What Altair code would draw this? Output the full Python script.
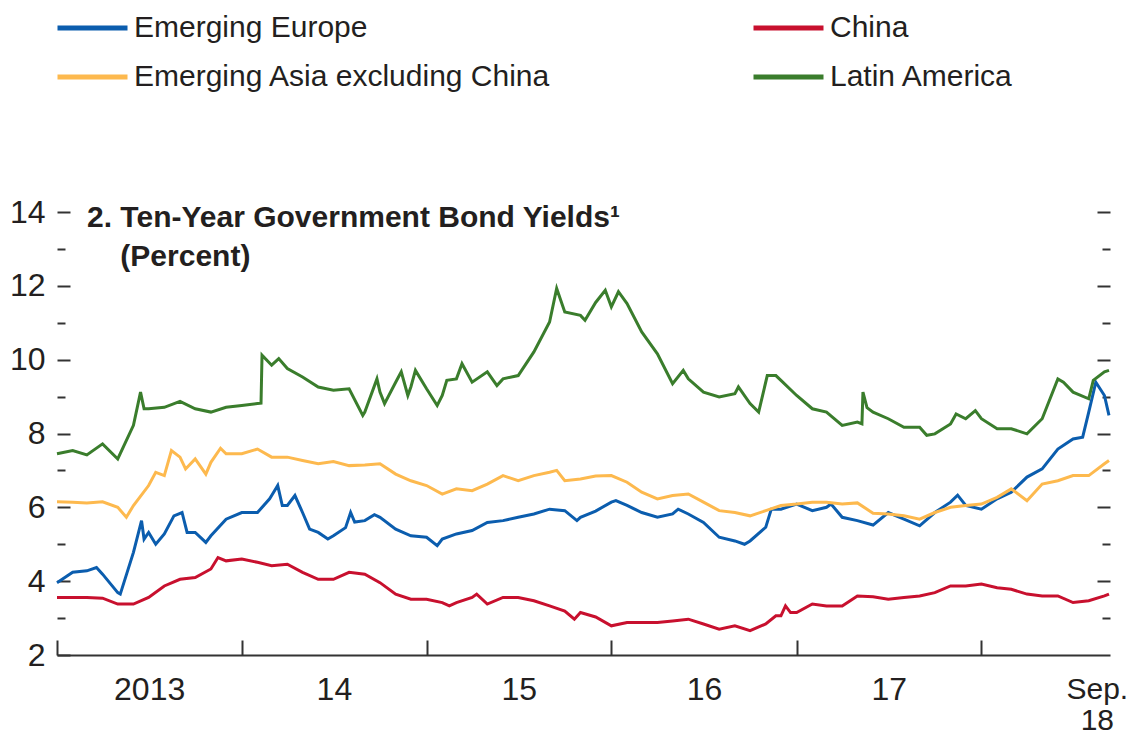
import altair as alt
import pandas as pd

FONT = "Liberation Sans, Arial, sans-serif"
TXT = "#231f20"
AX = "#333333"

SERIES = ["Emerging Europe", "China", "Emerging Asia excluding China", "Latin America"]
COLORS = ["#0B5DAE", "#C8102E", "#FDB94E", "#3A7D2C"]

ee_dates = ["2013-01-01","2013-02-01","2013-03-01","2013-03-20","2013-04-01","2013-05-01","2013-05-06","2013-06-01","2013-06-17","2013-06-22",
            "2013-07-01","2013-07-15","2013-08-01","2013-08-20","2013-09-05","2013-09-15","2013-10-01","2013-10-22","2013-11-01","2013-12-01",
            "2014-01-01","2014-02-01","2014-02-25","2014-03-01","2014-03-13","2014-03-22","2014-04-01","2014-04-16","2014-05-01","2014-05-15",
            "2014-06-01","2014-06-20","2014-07-01","2014-07-25","2014-08-04","2014-08-12","2014-09-01","2014-09-20","2014-10-01","2014-11-01",
            "2014-12-01","2015-01-01","2015-01-22","2015-02-01","2015-03-01","2015-04-01","2015-05-01","2015-06-01","2015-07-01","2015-08-01",
            "2015-09-01","2015-10-01","2015-10-25","2015-11-01","2015-12-01","2016-01-01","2016-01-10","2016-02-01","2016-03-01","2016-04-01",
            "2016-05-01","2016-05-12","2016-06-01","2016-07-01","2016-08-01","2016-09-01","2016-09-20","2016-10-01","2016-11-01","2016-11-12",
            "2016-12-01","2017-01-01","2017-02-01","2017-03-01","2017-03-10","2017-04-01","2017-05-01","2017-06-01","2017-07-01","2017-08-01",
            "2017-09-01","2017-10-01","2017-11-01","2017-11-15","2017-12-01","2018-01-01","2018-02-01","2018-03-01","2018-04-01","2018-05-01",
            "2018-06-01","2018-07-01","2018-07-20","2018-08-01","2018-08-15","2018-09-01","2018-09-10"]
ee_vals = [3.96,4.24,4.28,4.37,4.19,3.69,3.65,4.78,5.64,5.14,
           5.32,5.00,5.28,5.77,5.86,5.32,5.32,5.05,5.23,5.68,
           5.86,5.86,6.23,6.32,6.59,6.05,6.05,6.32,5.86,5.41,
           5.32,5.14,5.23,5.45,5.86,5.60,5.64,5.80,5.73,5.41,
           5.23,5.19,4.96,5.14,5.28,5.37,5.59,5.64,5.73,5.82,
           5.95,5.91,5.64,5.73,5.90,6.14,6.18,6.05,5.86,5.73,
           5.82,5.95,5.82,5.59,5.19,5.09,5.00,5.09,5.46,5.95,
           5.95,6.09,5.91,6.00,6.09,5.73,5.64,5.52,5.86,5.68,
           5.50,5.86,6.14,6.33,6.05,5.95,6.23,6.41,6.82,7.04,
           7.58,7.85,7.90,8.58,9.39,9.03,8.49]

cn_dates = ["2013-01-01","2013-02-01","2013-03-01","2013-04-01","2013-05-01","2013-06-01","2013-07-01","2013-08-01","2013-09-01","2013-10-01",
            "2013-11-01","2013-11-15","2013-12-01","2014-01-01","2014-02-01","2014-03-01","2014-04-01","2014-05-01","2014-06-01","2014-07-01",
            "2014-08-01","2014-09-01","2014-10-01","2014-11-01","2014-12-01","2015-01-01","2015-02-01","2015-02-15","2015-03-01","2015-04-01",
            "2015-04-10","2015-05-01","2015-06-01","2015-07-01","2015-08-01","2015-09-01","2015-10-01","2015-10-20","2015-11-01","2015-12-01",
            "2016-01-01","2016-02-01","2016-03-01","2016-04-01","2016-05-01","2016-06-01","2016-07-01","2016-08-01","2016-09-01","2016-10-01",
            "2016-11-01","2016-11-21","2016-12-01","2016-12-10","2016-12-20","2017-01-01","2017-02-01","2017-03-01","2017-04-01","2017-05-01",
            "2017-06-01","2017-07-01","2017-08-01","2017-09-01","2017-10-01","2017-11-01","2017-12-01","2018-01-01","2018-02-01","2018-03-01",
            "2018-04-01","2018-05-01","2018-06-01","2018-07-01","2018-08-01","2018-09-01","2018-09-10"]
cn_vals = [3.56,3.56,3.56,3.54,3.38,3.38,3.56,3.87,4.05,4.10,
           4.33,4.64,4.55,4.60,4.51,4.42,4.46,4.24,4.05,4.05,
           4.24,4.19,3.96,3.65,3.51,3.51,3.42,3.33,3.42,3.56,
           3.65,3.38,3.56,3.56,3.47,3.33,3.19,2.97,3.15,3.03,
           2.79,2.88,2.88,2.88,2.92,2.97,2.84,2.70,2.79,2.66,
           2.84,3.06,3.06,3.33,3.15,3.15,3.38,3.33,3.33,3.60,
           3.58,3.51,3.56,3.60,3.69,3.87,3.87,3.92,3.82,3.78,
           3.65,3.60,3.60,3.42,3.47,3.60,3.65]

ea_dates = ["2013-01-01","2013-02-01","2013-03-01","2013-04-01","2013-05-01","2013-05-18","2013-06-01","2013-07-01","2013-07-15","2013-08-01",
            "2013-08-15","2013-09-01","2013-09-12","2013-10-01","2013-10-22","2013-11-01","2013-11-20","2013-12-01","2014-01-01","2014-02-01",
            "2014-03-01","2014-04-01","2014-05-01","2014-06-01","2014-07-01","2014-08-01","2014-09-01","2014-10-01","2014-11-01","2014-12-01",
            "2015-01-01","2015-02-01","2015-03-01","2015-04-01","2015-05-01","2015-06-01","2015-07-01","2015-08-01","2015-09-01","2015-09-15",
            "2015-10-01","2015-11-01","2015-12-01","2016-01-01","2016-02-01","2016-03-01","2016-04-01","2016-05-01","2016-06-01","2016-07-01",
            "2016-08-01","2016-09-01","2016-10-01","2016-11-01","2016-12-01","2017-01-01","2017-02-01","2017-03-01","2017-04-01","2017-05-01",
            "2017-06-01","2017-07-01","2017-08-01","2017-09-01","2017-10-01","2017-11-01","2017-12-01","2018-01-01","2018-02-01","2018-03-01",
            "2018-04-01","2018-05-01","2018-06-01","2018-07-01","2018-08-01","2018-09-01","2018-09-10"]
ea_vals = [6.15,6.14,6.12,6.15,6.00,5.73,6.05,6.59,6.95,6.86,
           7.54,7.36,7.04,7.31,6.90,7.22,7.60,7.45,7.45,7.58,
           7.36,7.36,7.27,7.18,7.24,7.13,7.15,7.18,6.90,6.72,
           6.59,6.36,6.50,6.45,6.63,6.86,6.72,6.86,6.95,7.00,
           6.72,6.77,6.85,6.86,6.68,6.41,6.23,6.32,6.36,6.14,
           5.91,5.86,5.77,5.91,6.05,6.09,6.14,6.14,6.09,6.12,
           5.84,5.82,5.77,5.68,5.86,6.00,6.05,6.09,6.27,6.50,
           6.18,6.63,6.72,6.86,6.86,7.18,7.27]

la_dates = ["2013-01-01","2013-02-01","2013-03-01","2013-04-01","2013-05-01","2013-06-01","2013-06-15","2013-06-22","2013-07-01","2013-08-01",
            "2013-09-01","2013-10-01","2013-11-01","2013-12-01","2014-01-01","2014-02-01","2014-02-08","2014-02-10","2014-03-01","2014-03-15",
            "2014-04-01","2014-05-01","2014-06-01","2014-07-01","2014-08-01","2014-08-28","2014-09-01","2014-09-25","2014-10-01","2014-10-10",
            "2014-11-01","2014-11-12","2014-11-25","2014-12-01","2014-12-10","2015-01-01","2015-01-22","2015-02-01","2015-02-10","2015-03-01",
            "2015-03-12","2015-04-01","2015-05-01","2015-05-20","2015-06-01","2015-07-01","2015-08-01","2015-09-01","2015-09-15","2015-10-01",
            "2015-11-01","2015-11-10","2015-12-01","2015-12-20","2016-01-01","2016-01-15","2016-02-01","2016-03-01","2016-04-01","2016-05-01",
            "2016-05-22","2016-06-01","2016-07-01","2016-08-01","2016-09-01","2016-09-08","2016-10-01","2016-10-18","2016-11-04","2016-11-21",
            "2016-12-01","2017-01-01","2017-02-01","2017-03-01","2017-04-01","2017-05-01","2017-05-10","2017-05-12","2017-05-20","2017-06-01",
            "2017-07-01","2017-08-01","2017-09-01","2017-09-15","2017-10-01","2017-11-01","2017-11-12","2017-12-01","2017-12-20","2018-01-01",
            "2018-02-01","2018-03-01","2018-04-01","2018-05-01","2018-06-01","2018-06-12","2018-07-01","2018-08-01","2018-08-10","2018-09-01",
            "2018-09-10"]
la_vals = [7.45,7.54,7.42,7.72,7.31,8.22,9.12,8.67,8.67,8.71,
           8.87,8.67,8.58,8.71,8.76,8.81,8.82,10.12,9.85,10.03,
           9.76,9.53,9.26,9.17,9.21,8.49,8.58,9.48,9.12,8.81,
           9.39,9.67,9.03,9.26,9.71,9.21,8.76,9.03,9.44,9.48,
           9.89,9.39,9.67,9.30,9.48,9.57,10.21,11.02,11.93,11.29,
           11.20,11.07,11.55,11.88,11.43,11.84,11.52,10.75,10.16,9.35,
           9.71,9.48,9.12,8.99,9.08,9.26,8.81,8.58,9.57,9.57,
           9.44,9.03,8.67,8.58,8.22,8.31,8.26,9.12,8.70,8.58,
           8.40,8.17,8.17,7.95,7.99,8.26,8.53,8.40,8.62,8.40,
           8.13,8.13,7.99,8.40,9.48,9.39,9.12,8.94,9.44,9.67,
           9.71]

Y_MAJOR = [2, 4, 6, 8, 10, 12, 14]
Y_MAJOR_RIGHT = [4, 6, 8, 10, 12, 14]
Y_MINOR = [3, 5, 7, 9, 11, 13]
YEAR_STARTS = [2013, 2014, 2015, 2016, 2017, 2018]
LABEL_POS = [(2013, 7, 2), (2014, 7, 2), (2015, 7, 2), (2016, 7, 2), (2017, 7, 2), (2018, 8, 17)]

rows = []
for name, ds, vs in [(SERIES[0], ee_dates, ee_vals), (SERIES[1], cn_dates, cn_vals),
                     (SERIES[2], ea_dates, ea_vals), (SERIES[3], la_dates, la_vals)]:
    rows += [{"series": name, "date": d, "value": v} for d, v in zip(ds, vs)]
df = pd.DataFrame(rows)

def dt(y, m, d):
    return alt.DateTime(year=y, month=m, date=d, utc=True)

xscale = alt.Scale(type="utc", domain=[dt(2013, 1, 1), dt(2018, 9, 12)])
yscale = alt.Scale(domain=[2, 14], nice=False, zero=False)

LAST = "utcyear(datum.value) == 2018"
x_labels_axis = alt.Axis(
    values=[dt(*p) for p in LABEL_POS], orient="bottom", ticks=False, domain=True,
    domainColor=AX, domainWidth=2, grid=False, title=None,
    labelExpr="utcyear(datum.value) == 2013 ? '2013' : (" + LAST + " ? ['Sep.', '18'] : utcFormat(datum.value, '%y'))",
    labelFont=FONT, labelFontSize={"condition": {"test": LAST, "value": 30}, "value": 32},
    labelColor=TXT, labelPadding=19, labelFlush=False, labelOverlap=False, labelLineHeight=31)
x_ticks_axis = alt.Axis(
    values=[dt(y, 1, 1) for y in YEAR_STARTS], orient="bottom", offset=-15, tickSize=15,
    tickWidth=2, tickColor=AX, domain=False, labels=False, grid=False, title=None)

def y_axis(values, orient, size, labels):
    kw = dict(values=values, orient=orient, offset=-size, tickSize=size, tickWidth=2,
              tickColor=AX, domain=False, grid=False, title=None, labels=labels)
    if labels:
        kw.update(labelFont=FONT, labelFontSize=32, labelColor=TXT, labelPadding=12)
    return alt.Axis(**kw)

color = alt.Color("series:N", scale=alt.Scale(domain=SERIES, range=COLORS),
                  legend=alt.Legend(orient="none", legendX=-2, legendY=-204, columns=2, direction="horizontal",
                                    title=None, symbolType="M-1,0H3", symbolSize=1225, symbolStrokeWidth=5,
                                    labelFont=FONT, labelFontSize=30, labelColor=TXT, labelLimit=1000,
                                    labelOffset=39, columnPadding=192, rowPadding=14, padding=0))

base = alt.Chart(df)
lines = base.mark_line(strokeWidth=3).encode(
    x=alt.X("date:T", scale=xscale, axis=x_labels_axis),
    y=alt.Y("value:Q", scale=yscale, axis=y_axis(Y_MAJOR, "left", 13, True)),
    color=color)
g2 = base.mark_line(opacity=0).encode(
    x=alt.X("date:T", scale=xscale, axis=x_ticks_axis),
    y=alt.Y("value:Q", scale=yscale, axis=y_axis(Y_MINOR, "left", 8, False)),
    detail="series:N")
g3 = base.mark_line(opacity=0).encode(
    x=alt.X("date:T", scale=xscale, axis=None),
    y=alt.Y("value:Q", scale=yscale, axis=y_axis(Y_MAJOR_RIGHT, "right", 13, False)),
    detail="series:N")
g4 = base.mark_line(opacity=0).encode(
    x=alt.X("date:T", scale=xscale, axis=None),
    y=alt.Y("value:Q", scale=yscale, axis=y_axis(Y_MINOR, "right", 8, False)),
    detail="series:N")

chart = alt.layer(lines, g2, g3, g4).resolve_axis(x="independent", y="independent").properties(
    width=1053, height=443,
    background="white",
    autosize=alt.AutoSizeParams(type="none"),
    padding={"left": 49, "top": 204, "right": 20, "bottom": 80},
    title=alt.TitleParams(
        text=["2. Ten-Year Government Bond Yields\u00b9", "\u200b\u00a0\u00a0\u00a0\u00a0(Percent)"],
        anchor="start", frame="group", font=FONT, fontSize=30, fontWeight="bold", color=TXT,
        dx=30, dy=268, lineHeight=39),
).configure_view(strokeWidth=0, stroke="transparent")

chart.save("out.html", embed_options={"renderer": "svg", "actions": False})
